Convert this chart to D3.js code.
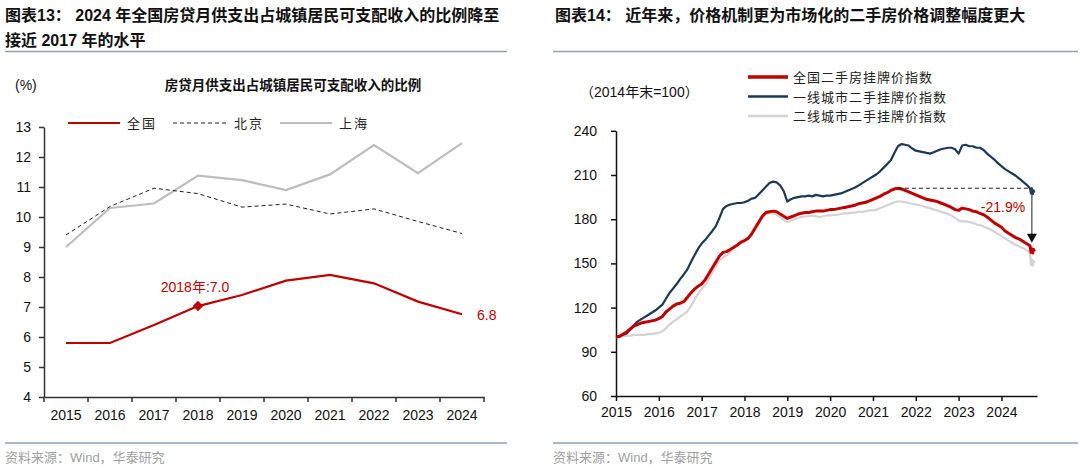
<!DOCTYPE html>
<html><head><meta charset="utf-8">
<script src="https://cdn.jsdelivr.net/npm/d3@7"></script>
<style>
html,body{margin:0;padding:0;background:#fff;}
svg{display:block;font-family:"Liberation Sans",Arial,"Noto Sans CJK SC",sans-serif;}
</style></head><body>
<svg id="c" width="1080" height="471"></svg>
<script>
// ---------- Left chart data ----------
const years = ["2015","2016","2017","2018","2019","2020","2021","2022","2023","2024"];
const nationalRatio = [5.8, 5.8, 6.4, 7.03, 7.4, 7.88, 8.07, 7.79, 7.18, 6.76];
const beijingRatio  = [9.4, 10.35, 10.96, 10.78, 10.33, 10.43, 10.1, 10.27, 9.85, 9.45];
const shanghaiRatio = [9.0, 10.3, 10.45, 11.38, 11.23, 10.9, 11.42, 12.4, 11.46, 12.46];
const ratioTicks = [4,5,6,7,8,9,10,11,12,13];
const leftLegend = ["全国","北京","上海"];

// ---------- Right chart data (monthly, Jan 2015 = first) ----------
const monthStart = 2015;
const nationalIdx = [
 100,100.5,102,103.5,105.5,107.5,108.5,109.5,110,110.5,111,111.5,
 112.5,114,117,119,121,122.5,123,124,127,130,132.5,134.5,
 136,139,143,147,151,155,157.5,158,159.5,161,162.5,164.5,
 165.5,167,170,174,178,182,184.5,185,185.5,185,183.5,182,
 180.5,181.5,182.5,183.5,184,184.5,184.5,185,185.5,185.5,185.5,186,
 186.5,186.5,187,187.5,188,188.5,189,189.5,190.5,191,191.5,192.5,
 193.5,194.5,195.5,197,198,199.5,200.5,201,200.5,199.5,198.5,197.5,
 196.5,195.5,194.5,193.5,193,192.5,192,191,190,189,188,186.5,
 186,187.5,187,186.5,185.5,185,184,183,181.5,179.5,177.5,176,
 174.5,172,170.5,169,167.5,166.5,165,163.5,162
];
const tier1Idx = [
 100,100.5,101.5,102.5,105,108,110.5,112,113.5,115,116.5,118,
 120,122,126,130,133,136,139.5,142.5,146,151,155.5,160,
 163.5,166,169,172,175.5,181,187,189,190,190.5,191,191,
 191.5,192.5,194,194.5,197,199.5,202,204.5,205.5,205,203,199,
 192,193.5,194.5,195,195.5,195.5,196,195.5,196.5,196,195.5,196,
 196,196.5,197,197.5,198.5,199.5,200.5,201.5,203,204.5,206,207.5,
 209,210.5,212.5,215,217.5,220,225,229.5,231,230.5,230,228,
 226.5,226,225.5,225,224.5,225.5,226.5,227.5,228,228.5,228.5,227.5,
 224.5,230,230.5,229.5,229.5,228.5,228.5,227,224.5,222.5,220.5,218,
 216,214,212.5,211,209.5,207.5,205.5,203.5,201
];
const tier2Idx = [
 100,100,100.5,101,101,101.5,101.5,101.5,101.5,102,102,102.5,
 103,104,106,108.5,110.5,112,114,115.5,117.5,121,125.5,129.5,
 132.5,135.5,139.5,144,148,152,154,155.5,157.5,160,162,164,
 165,166.5,169.5,173.5,177.5,181,183.5,184,184,183,181.5,179.5,
 178,179,180,181,181.5,182,182,182.5,182,181.5,182,182.5,
 182.5,183,183,183.5,184,184,184.5,184.5,185,185,185.5,186,
 186,186.5,187.5,188.5,189.5,190.5,191.5,192,192,191.5,191,190.5,
 190,189.5,189,188,187.5,186.5,186,185,184.5,183.5,182.5,181,
 179,178.5,178.5,178,177.5,176.5,176,175,174,173,171.5,170,
 168.5,167,165.5,164,162.5,161.5,160.5,159,157.5
];
// weekly tail (decimal-year dates) at the very end of the series
const tailDates   = [2024.69, 2024.71, 2024.73, 2024.75, 2024.77];
const nationalTail = [157.5, 160, 157, 159.5, 158];
const tier1Tail    = [197.5, 201, 197, 199.5, 198];
const tier2Tail    = [149, 152.5, 148.5, 151.5, 150];
const indexTicks = [60,90,120,150,180,210,240];
const yearTicks = [2015,2016,2017,2018,2019,2020,2021,2022,2023,2024];
const rightLegend = ["全国二手房挂牌价指数","一线城市二手挂牌价指数","二线城市二手挂牌价指数"];
const dropLabel = "-21.9%";

// ---------- styles ----------
const RED = "#c00000", NAVY = "#1c3957", LGRAY = "#d3d3d3", SGRAY = "#bdbdbd";
const AXIS = "#333", RULE = "#8ea0ba";
const svg = d3.select("#c");

// titles
svg.append("text").attr("x",5).attr("y",21).attr("font-size",16).attr("font-weight","bold")
  .attr("fill","#111").text("图表13：  2024 年全国房贷月供支出占城镇居民可支配收入的比例降至");
svg.append("text").attr("x",5).attr("y",46).attr("font-size",16).attr("font-weight","bold")
  .attr("fill","#111").text("接近 2017 年的水平");
svg.append("text").attr("x",555).attr("y",21).attr("font-size",16).attr("font-weight","bold")
  .attr("fill","#111").text("图表14：  近年来，价格机制更为市场化的二手房价格调整幅度更大");
[[5,507],[553,1078]].forEach(([a,b])=>{
  svg.append("line").attr("x1",a).attr("x2",b).attr("y1",51.5).attr("y2",51.5).attr("stroke",RULE).attr("stroke-width",1.5);
  svg.append("line").attr("x1",a).attr("x2",b).attr("y1",443).attr("y2",443).attr("stroke",RULE).attr("stroke-width",1.5);
});
svg.append("text").attr("x",5).attr("y",462).attr("font-size",13).attr("fill","#a0a0a0").text("资料来源：Wind，华泰研究");
svg.append("text").attr("x",553).attr("y",462).attr("font-size",13).attr("fill","#a0a0a0").text("资料来源：Wind，华泰研究");

// ================= LEFT CHART =================
{
  const x = d3.scaleBand().domain(years).range([44,484]).padding(0);
  const y = d3.scaleLinear().domain([4,13]).range([397,127]);
  const g = svg.append("g");
  const ya = g.append("g").attr("transform","translate(44,0)")
    .call(d3.axisLeft(y).tickValues(ratioTicks).tickSize(5).tickSizeOuter(0).tickPadding(8));
  ya.selectAll("path,line").attr("stroke",AXIS).attr("stroke-width",1.5);
  ya.selectAll("text").attr("font-size",14).attr("fill","#111").attr("font-family",null);
  const xa = g.append("g").attr("transform","translate(0,397)")
    .call(d3.axisBottom(x).tickSize(0).tickPadding(13));
  xa.select(".domain").attr("stroke",AXIS).attr("stroke-width",1.5);
  xa.selectAll("text").attr("font-size",14).attr("fill","#111").attr("font-family",null);
  const edges = years.map(d=>x(d)).concat([x.range()[1]]);
  g.selectAll(".xt").data(edges).join("line").attr("x1",d=>d).attr("x2",d=>d)
    .attr("y1",397).attr("y2",402).attr("stroke",AXIS).attr("stroke-width",1.5);
  const cx = d=>x(d)+x.bandwidth()/2;
  const line = d3.line().x((d,i)=>cx(years[i])).y(d=>y(d));
  g.append("path").attr("d",line(shanghaiRatio)).attr("fill","none").attr("stroke",SGRAY).attr("stroke-width",2.2);
  g.append("path").attr("d",line(beijingRatio)).attr("fill","none").attr("stroke","#222").attr("stroke-width",1).attr("stroke-dasharray","4,3");
  g.append("path").attr("d",line(nationalRatio)).attr("fill","none").attr("stroke",RED).attr("stroke-width",2.2);
  g.append("path").attr("d",d3.symbol(d3.symbolDiamond2,70)())
    .attr("transform",`translate(${cx("2018")},${y(nationalRatio[3])})`).attr("fill",RED);
  g.append("text").attr("x",cx("2018")-3).attr("y",y(nationalRatio[3])-14).attr("text-anchor","middle")
    .attr("font-size",14).attr("fill",RED).text("2018年:" + nationalRatio[3].toFixed(1));
  g.append("text").attr("x",cx("2024")+15).attr("y",y(nationalRatio[9])+6)
    .attr("font-size",14).attr("fill",RED).text(nationalRatio[9].toFixed(1));
  g.append("text").attr("x",15).attr("y",90).attr("font-size",14).attr("fill","#111").text("(%)");
  g.append("text").attr("x",293).attr("y",90).attr("text-anchor","middle").attr("font-size",13.5)
    .attr("font-weight","bold").attr("fill","#111").text("房贷月供支出占城镇居民可支配收入的比例");
  const lg = [[68,120,RED,null,2.2],[173,227,"#222","4,3",1],[280,332,SGRAY,null,2.2]];
  lg.forEach((l,i)=>{
    g.append("line").attr("x1",l[0]).attr("x2",l[1]).attr("y1",123).attr("y2",123)
      .attr("stroke",l[2]).attr("stroke-width",l[4]).attr("stroke-dasharray",l[3]);
    g.append("text").attr("x",l[1]+7).attr("y",128).attr("font-size",13).attr("letter-spacing","2px")
      .attr("fill","#222").text(leftLegend[i]);
  });
}

// ================= RIGHT CHART =================
{
  const x = d3.scaleLinear().domain([2015, 2024.83]).range([616, 1037]);
  const y = d3.scaleLinear().domain([60,240]).range([396, 130.8]);
  const g = svg.append("g");
  const ya = g.append("g").attr("transform","translate(616,0)")
    .call(d3.axisLeft(y).tickValues(indexTicks).tickSize(5).tickSizeOuter(0).tickPadding(14));
  ya.selectAll("path,line").attr("stroke","#111").attr("stroke-width",1.5);
  ya.selectAll("text").attr("font-size",14).attr("fill","#111").attr("font-family",null);
  const xa = g.append("g").attr("transform","translate(0,396)")
    .call(d3.axisBottom(x).tickValues(yearTicks).tickFormat(d3.format("d")).tickSize(5).tickSizeOuter(0).tickPadding(6));
  xa.selectAll("path,line").attr("stroke","#111").attr("stroke-width",1.5);
  xa.selectAll("text").attr("font-size",14).attr("fill","#111").attr("font-family",null);

  const toPts = (arr, tail) => arr.map((v,i)=>[monthStart + i/12, v]).concat(tail.map((v,i)=>[tailDates[i], v]));
  const line = d3.line().x(d=>x(d[0])).y(d=>y(d[1]));
  g.append("path").attr("d",line(toPts(tier2Idx,tier2Tail))).attr("fill","none").attr("stroke",LGRAY).attr("stroke-width",2.2).attr("stroke-linejoin","round");
  g.append("path").attr("d",line(toPts(tier1Idx,tier1Tail))).attr("fill","none").attr("stroke",NAVY).attr("stroke-width",2.2).attr("stroke-linejoin","round");
  g.append("path").attr("d",line(toPts(nationalIdx,nationalTail))).attr("fill","none").attr("stroke",RED).attr("stroke-width",3).attr("stroke-linejoin","round");

  const peakV = d3.max(nationalIdx);
  const peakI = nationalIdx.indexOf(peakV);
  const px = x(monthStart + peakI/12);
  const ax = x(tailDates[1]);
  g.append("line").attr("x1",px).attr("x2",ax).attr("y1",y(peakV)).attr("y2",y(peakV))
    .attr("stroke","#222").attr("stroke-width",1).attr("stroke-dasharray","4,3");
  const tipY = y(d3.max(nationalTail)) - 6;
  g.append("line").attr("x1",ax).attr("x2",ax).attr("y1",y(peakV)).attr("y2",tipY-8)
    .attr("stroke","#444").attr("stroke-width",1.2);
  g.append("path").attr("d",`M${ax-5},${tipY-9}L${ax+5},${tipY-9}L${ax},${tipY}Z`).attr("fill","#111");
  g.append("text").attr("x",1003).attr("y",212).attr("text-anchor","middle").attr("font-size",14)
    .attr("fill",RED).text(dropLabel);

  g.append("text").attr("x",580).attr("y",97).attr("font-size",14).attr("fill","#111").text("（2014年末=100）");
  const cols = [RED, NAVY, LGRAY];
  const ws = [3.5, 2.5, 2.5];
  rightLegend.forEach((t,i)=>{
    const yy = 77 + i*19.5;
    g.append("line").attr("x1",748).attr("x2",788).attr("y1",yy).attr("y2",yy).attr("stroke",cols[i]).attr("stroke-width",ws[i]);
    g.append("text").attr("x",793).attr("y",yy+5).attr("font-size",13).attr("letter-spacing","1px").attr("fill","#222").text(t);
  });
}
</script>
</body></html>
